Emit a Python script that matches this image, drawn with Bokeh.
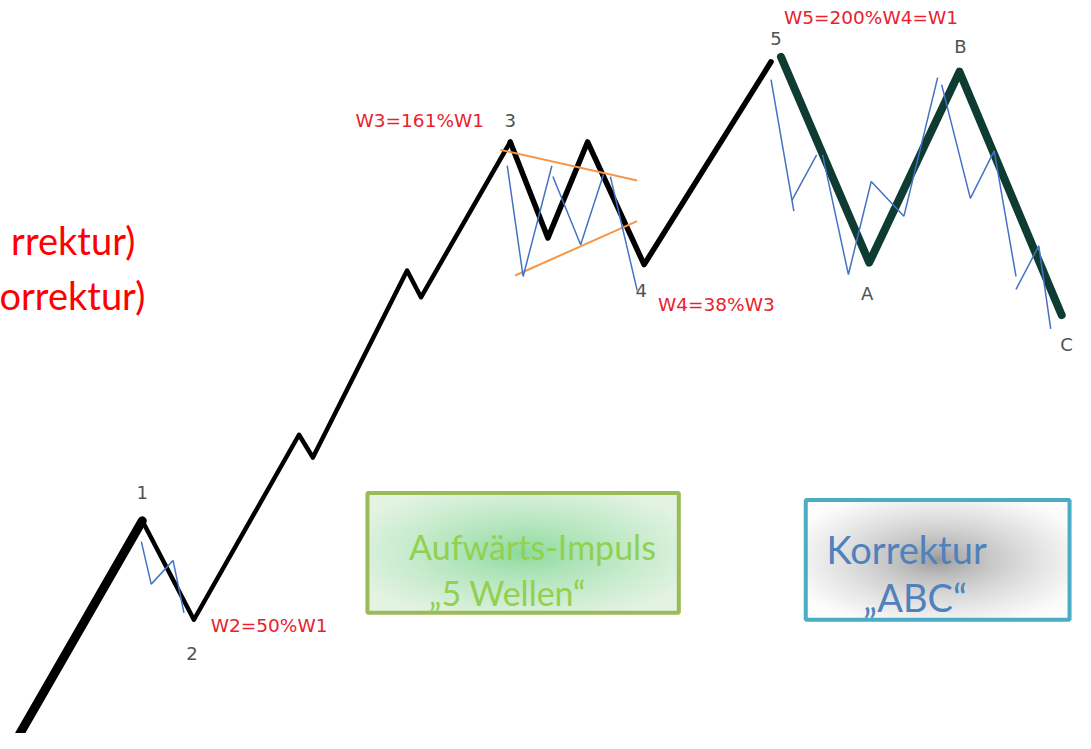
import numpy as np
from bokeh.plotting import figure
from bokeh.models import Range1d
from bokeh.core.properties import value
from bokeh.embed import file_html
from bokeh.resources import INLINE

# ---------------- data ----------------
# impulse wave 0-1-2-(i-ii-iii-iv)-3-a-b-4-5 : x position, price level
impulse_x = [19, 143, 195, 301, 315, 410, 424, 514, 552, 592, 649, 777]
impulse_y = [7, 223, 123, 310, 287, 476, 449, 606, 509, 606, 482, 687]

# corrective wave 5-A-B-C
abc_x = [787, 876, 967, 1070]
abc_y = [692, 484, 677, 431]

# sub-waves (thin blue)
sub_x = [[142, 152, 174, 185], [511, 527, 556], [557, 585, 608], [615, 642],
         [777, 800], [798, 823], [829, 855, 878, 911, 945],
         [949, 978, 1002, 1024], [1024, 1047, 1059]]
sub_y = [[202, 159, 183, 130], [582, 470, 582], [571, 502, 573], [571, 456],
         [669, 536], [547, 593], [593, 472, 566, 531, 671],
         [664, 549, 597, 470], [457, 501, 417]]

# triangle boundaries (orange)
tri_x = [[504, 642], [519, 642]]
tri_y = [[598, 567], [471, 526]]

# wave labels
wave_labels = ["1", "2", "3", "4", "5", "A", "B", "C"]
wave_lx = [143, 193, 514, 646, 782, 874, 968, 1075]
wave_ly = [252, 89, 628, 456, 711, 453, 703, 401]

# ratio labels
ratio_labels = ["W2=50%W1", "W3=161%W1", "W4=38%W3", "W5=200%W4=W1"]
ratio_lx = [212, 358, 663, 790]
ratio_ly = [117, 628, 442, 732]

# side notes (cut at the left border in the original)
note_labels = ["rrektur)", "orrektur)"]

# ---------------- figure ----------------
p = figure(width=1075, height=733, output_backend="svg", toolbar_location=None,
           x_range=Range1d(0, 1084), y_range=Range1d(8, 749),
           min_border=0, outline_line_color=None)
p.axis.visible = False
p.grid.visible = False
p.background_fill_color = "white"
p.border_fill_color = "white"

p.text(x=[136, 146], y=[507, 451], text=note_labels,
       text_align="right", text_baseline="alphabetic",
       text_font=value("Lato"), text_font_size="38px", text_color="#ff0000")

# gradient boxes
def grad_box(left, right, bottom, top, c_center, c_edge, power):
    nx, ny = int(right - left), int(top - bottom)
    xs = (np.arange(nx) + 0.5) / nx * 2 - 1
    ys = (np.arange(ny) + 0.5) / ny * 2 - 1
    X, Y = np.meshgrid(xs, ys)
    r = np.clip(np.sqrt(X ** 2 + Y ** 2) / 1.15, 0, 1) ** power
    img = np.empty((ny, nx), dtype=np.uint32)
    v = img.view(dtype=np.uint8).reshape((ny, nx, 4))
    for k in range(3):
        v[:, :, k] = (c_center[k] + (c_edge[k] - c_center[k]) * r).astype(np.uint8)
    v[:, :, 3] = 255
    p.image_rgba(image=[img], x=left, y=bottom, dw=right - left, dh=top - bottom)

grad_box(370, 684, 130, 251, (138, 218, 156), (226, 243, 226), 0.8)
grad_box(812, 1078, 123, 244, (148, 148, 148), (252, 252, 252), 0.65)
p.quad(left=[370], right=[684], bottom=[130], top=[251], fill_color=None,
       line_color="#9bbb59", line_width=4)
p.quad(left=[812], right=[1078], bottom=[123], top=[244], fill_color=None,
       line_color="#4bacc6", line_width=4)

p.text(x=[412, 432], y=[197, 151], text=["Aufwärts-Impuls", "„5 Wellen“"],
       text_baseline="alphabetic", text_font=value("Lato"),
       text_font_size="34px", text_color="#92d050")
p.text(x=[833, 870], y=[195, 146], text=["Korrektur", "„ABC“"],
       text_baseline="alphabetic", text_font=value("Lato"),
       text_font_size="38px", text_color="#4f81bd")

# main waves
p.line(impulse_x[0:2], impulse_y[0:2], line_color="black", line_width=9,
       line_cap="round", line_join="round")
p.line(impulse_x[1:8], impulse_y[1:8], line_color="black", line_width=4.5,
       line_cap="round", line_join="round")
p.line(impulse_x[7:12], impulse_y[7:12], line_color="black", line_width=5.5,
       line_cap="round", line_join="round")
p.line(abc_x, abc_y, line_color="#0e3b32", line_width=8,
       line_cap="round", line_join="round")

# triangle and subwaves
p.multi_line(tri_x, tri_y, line_color="#f79646", line_width=2)
p.multi_line(sub_x, sub_y, line_color="#4472c4", line_width=1.5)

# labels
p.text(x=wave_lx, y=wave_ly, text=wave_labels, text_align="center",
       text_baseline="middle", text_font=value("DejaVu Sans"),
       text_font_size="18px", text_color="#4d5252")
p.text(x=ratio_lx, y=ratio_ly, text=ratio_labels, text_align="left",
       text_baseline="middle", text_font=value("DejaVu Sans"),
       text_font_size="18.5px", text_color="#e8222e")

open("out.html", "w").write(file_html(p, INLINE))
